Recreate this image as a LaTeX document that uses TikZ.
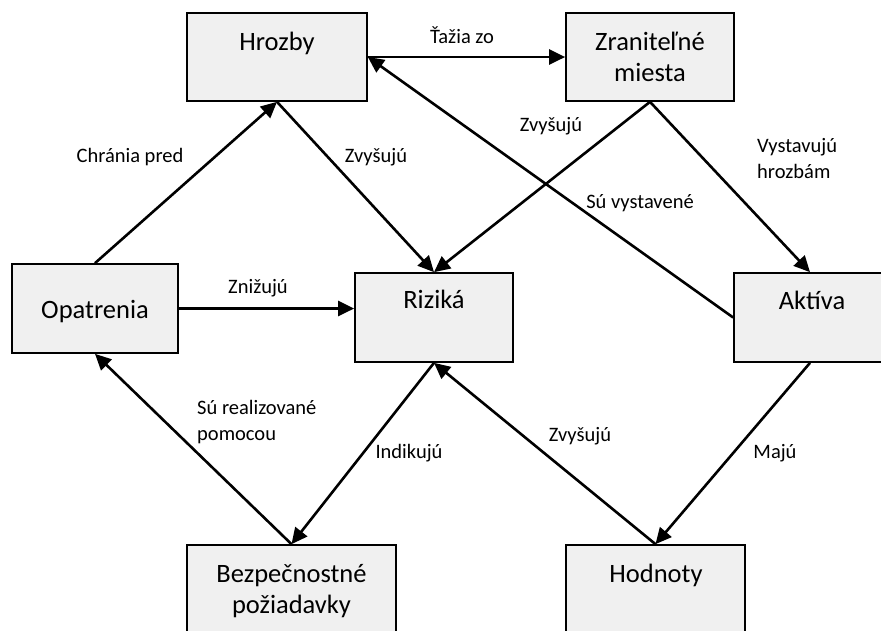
\documentclass[tikz,border=0pt]{standalone}
\usepackage{fontspec}
\setmainfont{Carlito}
\usetikzlibrary{arrows.meta}
\definecolor{boxfill}{RGB}{240,240,240}
\tikzset{
  box/.style={draw=black, line width=1.7pt, fill=boxfill, rectangle, inner sep=0pt},
  boxtext/.style={anchor=base, inner sep=0pt, align=center, font=\fontsize{26.5}{31}\selectfont},
  lbl/.style={anchor=base, inner sep=0pt, align=center, font=\fontsize{20.5}{25}\selectfont},
  lbll/.style={anchor=base west, inner sep=0pt, align=left, font=\fontsize{20.5}{25.5}\selectfont},
  conn/.style={line width=2.6pt, -{Triangle[length=16pt,width=15pt]}}
}
\begin{document}
\begin{tikzpicture}[x=1pt, y=-1pt]
\useasboundingbox (0,0) rectangle (881,630);
\clip (0,0) rectangle (881,630);
% boxes
\node[box, minimum width=180pt, minimum height=88pt] (hro) at (277,57) {};
\node[box, minimum width=168pt, minimum height=88pt] (zra) at (650,57) {};
\node[box, minimum width=166pt, minimum height=89pt] (opa) at (95,308.5) {};
\node[box, minimum width=158pt, minimum height=89pt] (riz) at (434,317.5) {};
\node[box, minimum width=152pt, minimum height=89pt] (akt) at (810,317.5) {};
\node[box, minimum width=209pt, minimum height=92pt] (bez) at (291.5,591) {};
\node[box, minimum width=179pt, minimum height=92pt] (hod) at (655.5,591) {};
% box texts
\node[boxtext] (hroT) at (277,50) {Hrozby};
\node[boxtext] (zraT) at (650,81) {Zraniteľné\\miesta};
\node[boxtext] (opaT) at (95,318) {Opatrenia};
\node[boxtext] (rizT) at (434,308) {Riziká};
\node[boxtext] (aktT) at (812,309) {Aktíva};
\node[boxtext] (bezT) at (291.5,613) {Bezpečnostné\\požiadavky};
\node[boxtext] (hodT) at (656,582) {Hodnoty};
% connectors
\draw[conn] (hro.east) -- (zra.west);
\draw[conn] (akt.west) -- (hro.east);
\draw[conn] (zra.south) -- (riz.north);
\draw[conn] (zra.south) -- (akt.north);
\draw[conn] (hro.south) -- (riz.north);
\draw[conn] (opa.north) -- (hro.south);
\draw[conn] (opa.east) -- (opa.east -| riz.west);
\draw[conn] (bez.north) -- (opa.south);
\draw[conn] (riz.south) -- (bez.north);
\draw[conn] (hod.north) -- (riz.south);
\draw[conn] (akt.south) -- (hod.north);
% labels
\node[lbl] (l1) at (462,43) {Ťažia zo};
\node[lbl] (l2) at (130,162) {Chránia pred};
\node[lbl] (l3) at (376,162) {Zvyšujú};
\node[lbl] (l4) at (551,131) {Zvyšujú};
\node[lbll] (l5) at (757,178) {Vystavujú\\hrozbám};
\node[lbl] (l6) at (640,208) {Sú vystavené};
\node[lbl] (l7) at (258,293) {Znižujú};
\node[lbll] (l8) at (197,440) {Sú realizované\\pomocou};
\node[lbl] (l9) at (409,458) {Indikujú};
\node[lbl] (l10) at (580,441) {Zvyšujú};
\node[lbl] (l11) at (775,458) {Majú};
\end{tikzpicture}
\end{document}
